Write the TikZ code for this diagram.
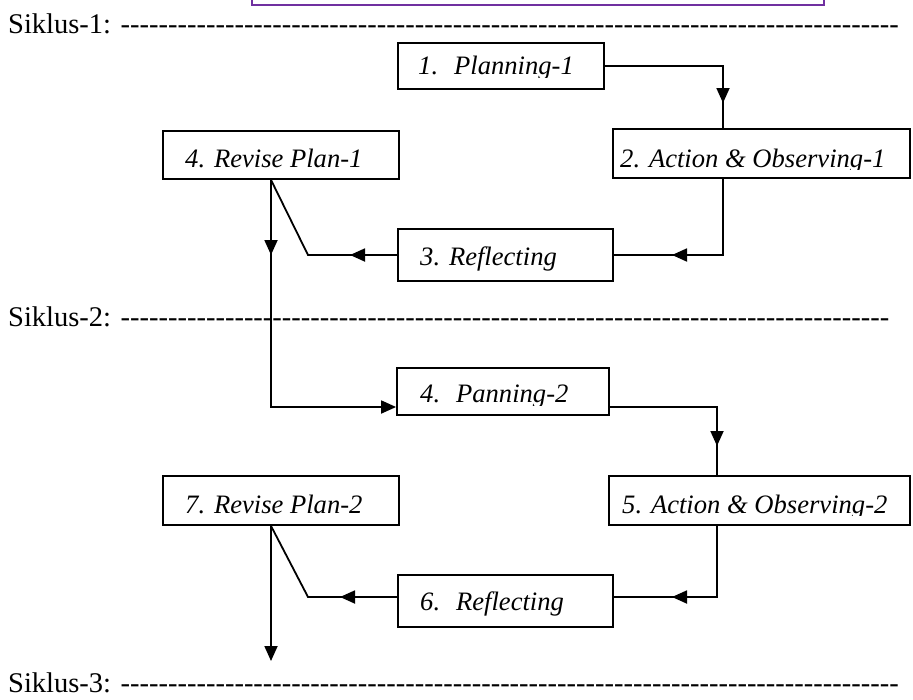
\documentclass[tikz,border=0pt]{standalone}
\usepackage{fontspec}
\setmainfont{Liberation Serif}
\usetikzlibrary{arrows.meta}
\definecolor{wordpurple}{RGB}{112,48,160}
\newcount\hyc
\newcommand\hyphs[1]{\hyc=0 \loop\ifnum\hyc<#1 -\kern0pt\advance\hyc by 1 \repeat}
\newcommand\sikfont{\fontsize{28.5}{30}\selectfont}
\newcommand\boxfont{\fontsize{26.6}{28}\selectfont\itshape}
\tikzset{
  wbox/.style={draw, line width=1.8pt, inner sep=0pt, fill=white},
  conn/.style={line width=1.8pt},
  tri/.style={line width=1.8pt, -{Triangle[length=15pt,width=13pt]}},
  lbl/.style={anchor=base west, inner sep=0pt, font=\boxfont},
  sik/.style={anchor=base west, inner sep=0pt, font=\sikfont}
}
\begin{document}
\begin{tikzpicture}[x=1pt,y=-1pt]
\useasboundingbox (0,0) rectangle (913,699);
% purple box (cut off at top)
\draw[wordpurple, line width=2.5pt] (252,-3) -- (252,5) -- (824,5) -- (824,-3);
% cycle lines
\node[sik] (s1) at (8,33) {Siklus-1: \hyphs{82}};
\node[sik] (s2) at (8,326) {Siklus-2: \hyphs{81}};
\node[sik] (s3) at (8,692) {Siklus-3: \hyphs{82}};
% boxes
\node[wbox, minimum width=206pt, minimum height=46pt] (p1) at (501,66) {};
\node[wbox, minimum width=297pt, minimum height=49pt] (a1) at (761.5,153.5) {};
\node[wbox, minimum width=236pt, minimum height=48pt] (r1) at (281,155) {};
\node[wbox, minimum width=215pt, minimum height=52pt] (f1) at (505.5,255) {};
\node[wbox, minimum width=212pt, minimum height=47pt] (p2) at (503,391.5) {};
\node[wbox, minimum width=301pt, minimum height=49pt] (a2) at (759.5,500.5) {};
\node[wbox, minimum width=236pt, minimum height=49pt] (r2) at (281,500.5) {};
\node[wbox, minimum width=215pt, minimum height=52pt] (f2) at (505.5,601) {};
% labels (clipped like the text boxes)
\begin{scope}
\clip (p1.north west) rectangle (p1.east |- 0,77);
\node[lbl] (p1t) at (418,74) {1.\hspace{0.6em}Planning-1};
\end{scope}
\begin{scope}
\clip (a1.north west) rectangle (a1.east |- 0,169);
\node[lbl] (a1t) at (620,167) {2. Action \& Observing-1};
\end{scope}
\node[lbl] (r1t) at (185,167) {4. Revise Plan-1};
\node[lbl] (f1t) at (420,265) {3. Reflecting};
\begin{scope}
\clip (p2.north west) rectangle (p2.east |- 0,405);
\node[lbl] (p2t) at (420,402) {4.\hspace{0.6em}Panning-2};
\end{scope}
\begin{scope}
\clip (a2.north west) rectangle (a2.east |- 0,515);
\node[lbl] (a2t) at (622,513) {5. Action \& Observing-2};
\end{scope}
\node[lbl] (r2t) at (185,513) {7. Revise Plan-2};
\node[lbl] (f2t) at (420,610) {6.\hspace{0.6em}Reflecting};
% helper coordinates
\coordinate (k1) at (723,0);
\coordinate (k2) at (717,0);
\coordinate (v1) at (271,0);
\coordinate (e1) at (0,407);
\coordinate (e2) at (0,597);
\coordinate (d1) at (308,255);
\coordinate (d2) at (308,597);
\coordinate (t1) at (723,103);
\coordinate (t2) at (672,255);
\coordinate (t3) at (350,255);
\coordinate (t4) at (271,255);
\coordinate (t5) at (717,446);
\coordinate (t6) at (672,597);
\coordinate (t7) at (340,597);
\coordinate (t8) at (271,661);
% connectors
\draw[conn] (p1.east) -| (k1 |- a1.north);
\draw[tri] (p1.east -| t1) -- (t1);
\draw[conn] (k1 |- a1.south) |- (f1.east);
\draw[tri] (k1 |- f1.east) -- (t2);
\draw[conn] (f1.west) -- (d1) -- (v1 |- r1.south);
\draw[tri] (f1.west) -- (t3);
\draw[tri] (v1 |- r1.south) |- (p2.west |- e1);
\draw[tri] (v1 |- r1.south) -- (t4);
\draw[conn] (p2.east |- e1) -| (k2 |- a2.north);
\draw[tri] (p2.east -| k2) ++(0,15.5) -- (t5);
\draw[conn] (k2 |- a2.south) |- (f2.east |- e2);
\draw[tri] (k2 |- e2) -- (t6);
\draw[conn] (f2.west |- e2) -- (d2) -- (v1 |- r2.south);
\draw[tri] (f2.west |- e2) -- (t7);
\draw[tri] (v1 |- r2.south) -- (t8);
\end{tikzpicture}
\end{document}
